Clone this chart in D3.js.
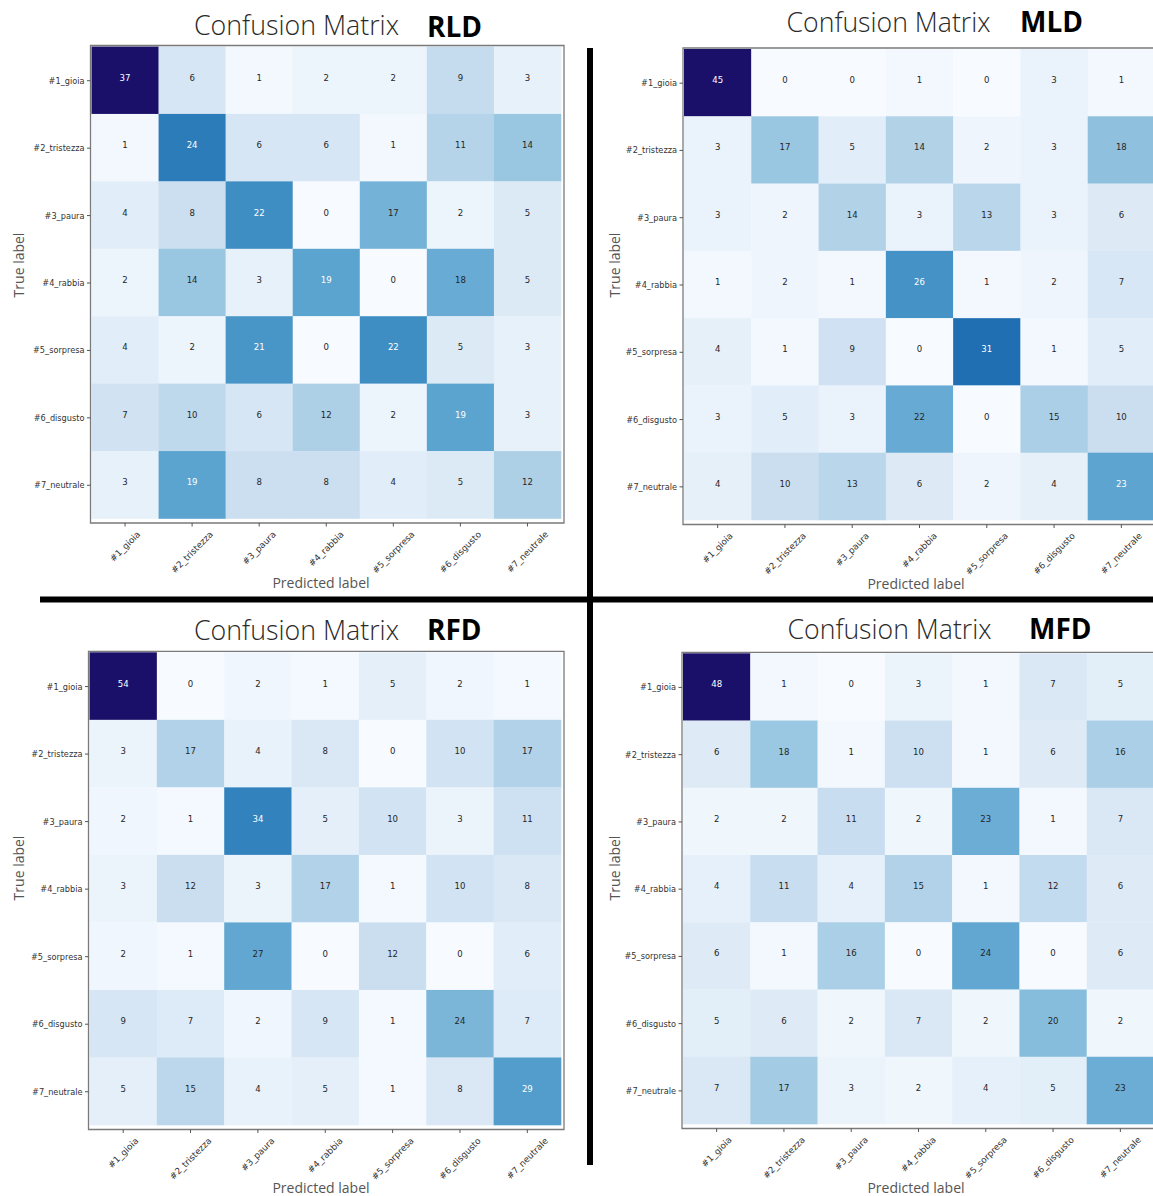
<!DOCTYPE html>
<html>
<head>
<meta charset="utf-8">
<script src="https://cdn.jsdelivr.net/npm/d3@7"></script>
<style>
  html, body { margin: 0; padding: 0; background: #fff; }
  svg { display: block; }
</style>
</head>
<body>
<svg id="chart" width="1153" height="1196"></svg>
<script>
// Emotion classes (rows = true label, columns = predicted label)
const classes = ["#1_gioia", "#2_tristezza", "#3_paura", "#4_rabbia", "#5_sorpresa", "#6_disgusto", "#7_neutrale"];

// Confusion matrices, one per model
const rld = [
  [37, 6, 1, 2, 2, 9, 3],
  [1, 24, 6, 6, 1, 11, 14],
  [4, 8, 22, 0, 17, 2, 5],
  [2, 14, 3, 19, 0, 18, 5],
  [4, 2, 21, 0, 22, 5, 3],
  [7, 10, 6, 12, 2, 19, 3],
  [3, 19, 8, 8, 4, 5, 12]
];
const mld = [
  [45, 0, 0, 1, 0, 3, 1],
  [3, 17, 5, 14, 2, 3, 18],
  [3, 2, 14, 3, 13, 3, 6],
  [1, 2, 1, 26, 1, 2, 7],
  [4, 1, 9, 0, 31, 1, 5],
  [3, 5, 3, 22, 0, 15, 10],
  [4, 10, 13, 6, 2, 4, 23]
];
const rfd = [
  [54, 0, 2, 1, 5, 2, 1],
  [3, 17, 4, 8, 0, 10, 17],
  [2, 1, 34, 5, 10, 3, 11],
  [3, 12, 3, 17, 1, 10, 8],
  [2, 1, 27, 0, 12, 0, 6],
  [9, 7, 2, 9, 1, 24, 7],
  [5, 15, 4, 5, 1, 8, 29]
];
const mfd = [
  [48, 1, 0, 3, 1, 7, 5],
  [6, 18, 1, 10, 1, 6, 16],
  [2, 2, 11, 2, 23, 1, 7],
  [4, 11, 4, 15, 1, 12, 6],
  [6, 1, 16, 0, 24, 0, 6],
  [5, 6, 2, 7, 2, 20, 2],
  [7, 17, 3, 2, 4, 5, 23]
];
const modelNames = ["RLD", "MLD", "RFD", "MFD"];
const matrices = [rld, mld, rfd, mfd];

const titleText = "Confusion Matrix";
const xAxisTitle = "Predicted label";
const yAxisTitle = "True label";

// Panel geometry (plot area of each heatmap and its titles)
const layout = [
  { left: 91.5, top: 46.5, right: 561, bottom: 518.5, titleX: 194, titleW: 205, titleY: 35, tagX: 427, tagY: 37, xLabX: 321, xLabY: 588, yLabX: 24, yLabY: 265 },
  { left: 684, top: 49, right: 1155, bottom: 520, titleX: 786.5, titleW: 204, titleY: 32, tagX: 1020, tagY: 32, xLabX: 916, xLabY: 589, yLabX: 620, yLabY: 265 },
  { left: 89.5, top: 652.3, right: 561, bottom: 1125, titleX: 194, titleW: 205, titleY: 640, tagX: 427, tagY: 640, xLabX: 321, xLabY: 1193, yLabX: 24, yLabY: 868 },
  { left: 683, top: 653.3, right: 1154, bottom: 1124, titleX: 787.5, titleW: 204, titleY: 639, tagX: 1029, tagY: 639, xLabX: 916, xLabY: 1193, yLabX: 620, yLabY: 868 }
];

const svg = d3.select("#chart");
svg.append("rect").attr("width", 1153).attr("height", 1196).attr("fill", "#fff");

// Blues ramp, stretched a little in the middle, whose very top runs into deep indigo
const blues = d3.interpolateBlues;
const stretch = t => (t <= 0.35 ? t : 0.35 + (t - 0.35) * 1.2);
const peakStart = 0.75;
const peakInterp = d3.interpolateRgb(blues(stretch(peakStart)), "#1b1069");
const ramp = t => (t <= peakStart ? blues(stretch(t)) : peakInterp((t - peakStart) / (1 - peakStart)));

const tickFont = "'DejaVu Sans', sans-serif";
const numFont = "'DejaVu Sans Condensed', 'DejaVu Sans', sans-serif";
const textFont = "'Open Sans', 'Noto Sans', sans-serif";

matrices.forEach((m, k) => {
  const L = layout[k];
  const g = svg.append("g");
  const maxV = d3.max(m.flat());
  const color = d3.scaleSequential(ramp).domain([0, maxV]);
  const x = d3.scaleBand().domain(d3.range(classes.length)).range([L.left, L.right]).padding(0);
  const y = d3.scaleBand().domain(d3.range(classes.length)).range([L.top, L.bottom]).padding(0);

  const cells = m.flatMap((row, i) => row.map((v, j) => ({ i, j, v })));

  // heatmap cells
  g.append("g").selectAll("rect").data(cells).join("rect")
    .attr("x", d => x(d.j)).attr("y", d => y(d.i))
    .attr("width", x.bandwidth() + 0.3).attr("height", y.bandwidth() + 0.3)
    .attr("fill", d => color(d.v));

  // cell counts
  g.append("g").selectAll("text").data(cells).join("text")
    .attr("x", d => x(d.j) + x.bandwidth() / 2)
    .attr("y", d => y(d.i) + y.bandwidth() / 2 - 3)
    .attr("text-anchor", "middle").attr("dominant-baseline", "central")
    .attr("font-family", numFont).attr("font-size", 9.5)
    .attr("fill", d => (d.v > maxV / 2 ? "#ffffff" : "#262626"))
    .text(d => d.v);

  // axes frame
  const fx0 = L.left - 1, fy0 = L.top - 1, fx1 = L.right + 3, fy1 = L.bottom + 4.5;
  g.append("path")
    .attr("d", `M${fx0},${fy0}H${fx1}V${fy1}H${fx0}Z`)
    .attr("fill", "none").attr("stroke", "#7a7a7a").attr("stroke-width", 1.3);

  // y ticks and labels
  const yt = g.append("g");
  classes.forEach((c, i) => {
    const cy = y(i) + y.bandwidth() / 2 + 0.5;
    yt.append("line").attr("x1", fx0 - 3.5).attr("x2", fx0).attr("y1", cy).attr("y2", cy)
      .attr("stroke", "#555").attr("stroke-width", 1);
    yt.append("text").attr("x", fx0 - 6).attr("y", cy)
      .attr("text-anchor", "end").attr("dominant-baseline", "central")
      .attr("font-family", tickFont).attr("font-size", 8.2).attr("fill", "#333")
      .text(c);
  });

  // x ticks and rotated labels (box centred under each tick)
  const xt = g.append("g");
  classes.forEach((c, j) => {
    const cx = x(j) + x.bandwidth() / 2;
    xt.append("line").attr("x1", cx).attr("x2", cx).attr("y1", fy1).attr("y2", fy1 + 3.5)
      .attr("stroke", "#555").attr("stroke-width", 1);
    const t = xt.append("text")
      .attr("text-anchor", "middle").attr("dominant-baseline", "central")
      .attr("font-family", tickFont).attr("font-size", 8.8).attr("fill", "#333")
      .text(c);
    const len = t.node().getComputedTextLength();
    const half = (len + 8) * Math.SQRT1_2 / 2;
    t.attr("transform", `translate(${cx},${fy1 + 7 + half}) rotate(-45)`);
  });

  // titles
  g.append("text").attr("x", L.titleX).attr("y", L.titleY)
    .attr("font-family", textFont).attr("font-weight", 300).attr("font-size", 28)
    .attr("fill", "#2a2a2a")
    .attr("textLength", L.titleW).attr("lengthAdjust", "spacingAndGlyphs")
    .text(titleText);
  g.append("text").attr("x", L.tagX).attr("y", L.tagY)
    .attr("font-family", textFont).attr("font-weight", 700).attr("font-size", 28)
    .attr("fill", "#000")
    .text(modelNames[k]);

  g.append("text").attr("x", L.xLabX).attr("y", L.xLabY)
    .attr("text-anchor", "middle")
    .attr("font-family", textFont).attr("font-size", 14).attr("fill", "#555")
    .text(xAxisTitle);
  g.append("text")
    .attr("transform", `translate(${L.yLabX},${L.yLabY}) rotate(-90)`)
    .attr("text-anchor", "middle")
    .attr("font-family", textFont).attr("font-size", 14).attr("fill", "#555")
    .text(yAxisTitle);
});

// quadrant dividers
svg.append("rect").attr("x", 40).attr("y", 596.5).attr("width", 1113).attr("height", 6).attr("fill", "#000");
svg.append("rect").attr("x", 587).attr("y", 48).attr("width", 6).attr("height", 1117).attr("fill", "#000");
</script>
</body>
</html>
